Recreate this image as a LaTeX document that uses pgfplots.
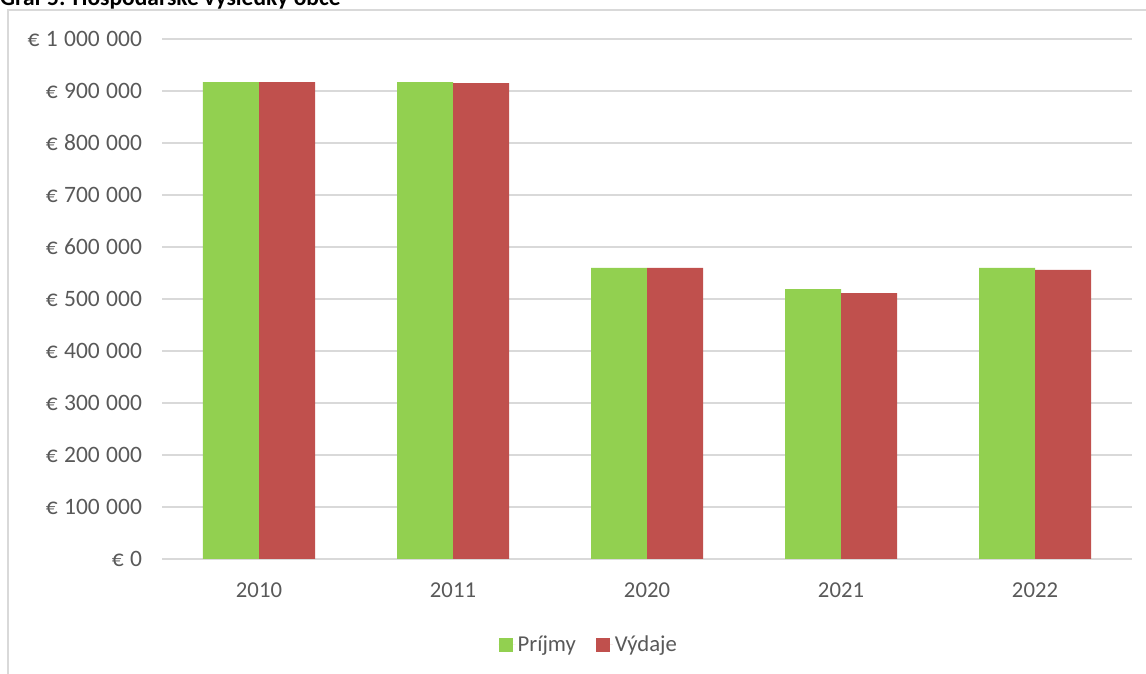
\documentclass[border=0pt]{standalone}
\usepackage{fontspec}
\setmainfont{Carlito}
\usepackage{pgfplots}
\pgfplotsset{compat=1.18}
\definecolor{gridc}{HTML}{D9D9D9}
\definecolor{txt}{HTML}{595959}
\definecolor{grn}{HTML}{92D050}
\definecolor{rd}{HTML}{C0504D}
\newcommand\gsp{\hspace{0.27em}}
\begin{document}
\begin{tikzpicture}[x=1pt,y=1pt]
\clip (0,0) rectangle (1146,674);
\draw[gridc, line width=1.5pt] (8,0) -- (8,664) -- (1146,664);
\node[anchor=base west, inner sep=0pt, font=\fontsize{23.5}{28}\selectfont\bfseries, text=black] at (0,668) {Graf 5: Hospodárske výsledky obce};
\begin{axis}[at={(162pt,115pt)}, anchor=south west, scale only axis, width=970pt, height=520pt,
  xmin=-0.5, xmax=4.5, ymin=0, ymax=1000000,
  ybar=0pt, bar width=56pt,
  axis line style={draw=none},
  major tick length=0pt,
  scaled y ticks=false,
  xtick={0,...,4}, xticklabels={2010,2011,2020,2021,2022},
  ytick={0,100000,...,1000000},
  yticklabels={€\gsp0,€\gsp100\gsp000,€\gsp200\gsp000,€\gsp300\gsp000,€\gsp400\gsp000,€\gsp500\gsp000,€\gsp600\gsp000,€\gsp700\gsp000,€\gsp800\gsp000,€\gsp900\gsp000,€\gsp1\gsp000\gsp000},
  ymajorgrids, grid style={gridc, line width=1.5pt},
  tick label style={text=txt},
  x tick label style={font=\fontsize{22.7}{27}\selectfont, yshift=-20.5pt},
  y tick label style={font=\fontsize{23.5}{28}\selectfont, xshift=-16.5pt},
  legend style={at={(0.44,-0.165)}, anchor=center, draw=none, legend columns=2, font=\fontsize{22.7}{27}\selectfont, text=txt, /tikz/every even column/.append style={column sep=18pt}},
  legend image code/.code={\fill[#1] (0pt,-7pt) rectangle (14pt,7pt); \path (0pt,0pt) -- (17pt,0pt);},
]
\addplot[fill=grn, draw=none] coordinates {(0,917000) (1,917000) (2,560000) (3,519000) (4,560000)};
\addplot[fill=rd, draw=none] coordinates {(0,917000) (1,915000) (2,560000) (3,511500) (4,556000)};
\legend{Príjmy, Výdaje}
\end{axis}
\end{tikzpicture}
\end{document}
